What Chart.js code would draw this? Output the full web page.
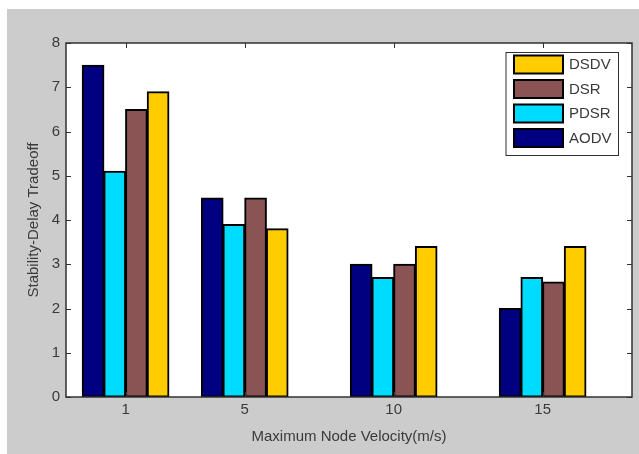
<!DOCTYPE html>
<html>
<head>
<meta charset="utf-8">
<script src="https://cdn.jsdelivr.net/npm/chart.js@4/dist/chart.umd.min.js"></script>
<style>
  html, body { margin: 0; padding: 0; background: #ffffff; }
  #wrap { position: absolute; left: 7px; top: 9px; width: 632px; height: 445px; background: #cccccc; }
  canvas { display: block; }
</style>
</head>
<body>
<div id="wrap"><canvas id="c" width="632" height="445"></canvas></div>
<script>
// ---- data ----
const velocities = [1, 5, 10, 15];
const seriesNames = ['AODV', 'PDSR', 'DSR', 'DSDV'];
const AODV = [7.5, 4.5, 3.0, 2.0];
const PDSR = [5.1, 3.9, 2.7, 2.7];
const DSR  = [6.5, 4.5, 3.0, 2.6];
const DSDV = [6.9, 3.8, 3.4, 3.4];
const yTicks = [0, 1, 2, 3, 4, 5, 6, 7, 8];
const xLabel = 'Maximum Node Velocity(m/s)';
const yLabel = 'Stability-Delay Tradeoff';

const colors = ['#000080', '#00dcff', '#8b5454', '#ffcc00'];
const seriesValues = [AODV, PDSR, DSR, DSDV];

const datasets = seriesNames.map((name, si) => ({
  label: name,
  data: velocities.map((v, i) => ({ x: v, y: seriesValues[si][i] })),
  backgroundColor: colors[si],
  borderColor: '#000000',
  borderWidth: 2,
  borderSkipped: false,
  inflateAmount: 0.5,
  categoryPercentage: 4 / 5.5,
  barPercentage: 1.0
}));

const FONT = 'Liberation Sans, Arial, sans-serif';
const TXT = '#3a3a3a';

const frame = {
  id: 'frame',
  beforeDatasetsDraw(chart) {
    const ctx = chart.ctx, a = chart.chartArea;
    ctx.save();
    ctx.fillStyle = '#ffffff';
    ctx.fillRect(a.left, a.top, a.right - a.left, a.bottom - a.top);
    ctx.restore();
  },
  afterDraw(chart) {
    const ctx = chart.ctx;
    const a = chart.chartArea;
    const xs = chart.scales.x, ys = chart.scales.y;
    ctx.save();
    ctx.strokeStyle = '#303030';
    ctx.lineWidth = 1.5;
    ctx.strokeRect(a.left, a.top, a.right - a.left, a.bottom - a.top);
    ctx.lineWidth = 1;
    const tl = 5;
    ctx.beginPath();
    yTicks.forEach(t => {
      const y = Math.round(ys.getPixelForValue(t)) + 0.5;
      ctx.moveTo(a.left, y); ctx.lineTo(a.left + tl, y);
      ctx.moveTo(a.right, y); ctx.lineTo(a.right - tl, y);
    });
    velocities.forEach(v => {
      const x = Math.round(xs.getPixelForValue(v)) + 0.5;
      ctx.moveTo(x, a.top); ctx.lineTo(x, a.top + tl);
      ctx.moveTo(x, a.bottom); ctx.lineTo(x, a.bottom - tl);
    });
    ctx.stroke();

    // legend (reverse order, as in reference)
    const lw = 112.5, lh = 103;
    const lx = a.right - 14 - lw, ly = a.top + 9;
    ctx.fillStyle = '#ffffff';
    ctx.fillRect(lx, ly, lw, lh);
    ctx.strokeStyle = '#303030';
    ctx.lineWidth = 1;
    ctx.strokeRect(lx + 0.5, ly + 0.5, lw, lh);
    ctx.font = '15px ' + FONT;
    ctx.textBaseline = 'middle';
    ctx.textAlign = 'left';
    const order = [3, 2, 1, 0];
    order.forEach((si, k) => {
      const sx = lx + 8.5, sy = ly + 3.5 + k * 24.5;
      ctx.fillStyle = colors[si];
      ctx.fillRect(sx, sy, 49, 18);
      ctx.strokeStyle = '#000000';
      ctx.lineWidth = 2;
      ctx.strokeRect(sx, sy, 49, 18);
      ctx.fillStyle = TXT;
      ctx.fillText(seriesNames[si], sx + 55, sy + 9.5);
    });
    ctx.restore();
  }
};

new Chart(document.getElementById('c'), {
  type: 'bar',
  data: { datasets },
  options: {
    responsive: false,
    animation: false,
    layout: { padding: { left: 0, right: 7, top: 34, bottom: 0 } },
    plugins: { legend: { display: false }, tooltip: { enabled: false } },
    scales: {
      x: {
        type: 'linear',
        min: -1, max: 18,
        offset: false,
        grid: { display: false, drawTicks: false },
        border: { display: false },
        afterBuildTicks: s => { s.ticks = velocities.map(v => ({ value: v })); },
        afterFit: s => { s.height = 57; },
        ticks: { color: TXT, font: { family: FONT, size: 15 }, padding: 4, autoSkip: false, maxRotation: 0,
                 callback: v => String(v) },
        title: { display: true, text: xLabel, color: TXT, font: { family: FONT, size: 15 }, padding: { top: 0, bottom: 8 } }
      },
      y: {
        min: 0, max: 8,
        grid: { display: false, drawTicks: false },
        border: { display: false },
        afterBuildTicks: s => { s.ticks = yTicks.map(v => ({ value: v })); },
        afterFit: s => { s.width = 59; },
        ticks: { color: TXT, font: { family: FONT, size: 15 }, padding: 6 },
        title: { display: true, text: yLabel, color: TXT, font: { family: FONT, size: 15 }, padding: { top: 18, bottom: 0 } }
      }
    }
  },
  plugins: [frame]
});
</script>
</body>
</html>
